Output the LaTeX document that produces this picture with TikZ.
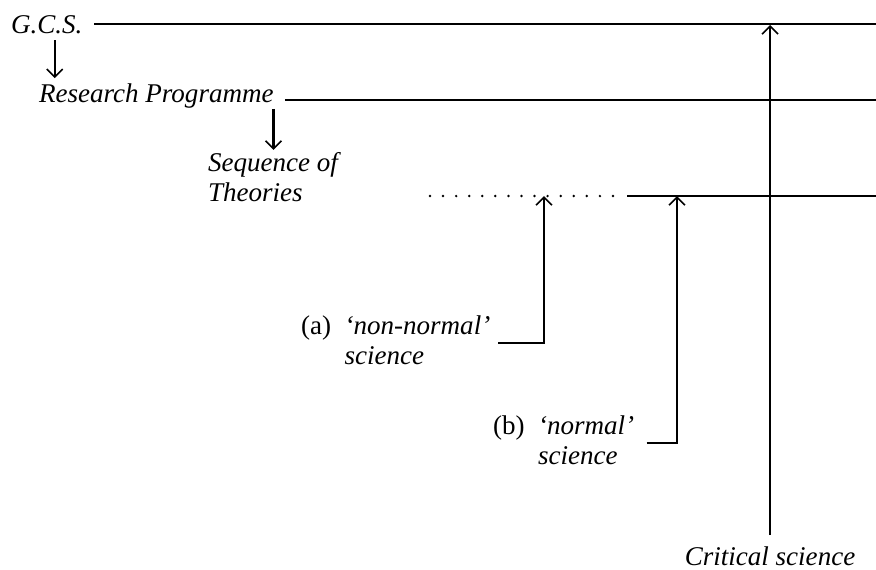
\documentclass[tikz,border=0pt]{standalone}
\usepackage{fontspec}
\setmainfont{Liberation Serif}[ItalicFont={Liberation Serif Italic},UprightFont={Liberation Serif}]
\usetikzlibrary{arrows.meta}
\begin{document}
\begin{tikzpicture}[x=0.44pt,y=-0.44pt,line width=0.9pt,
  every node/.style={inner sep=0pt,font=\fontsize{11.9}{13.2}\selectfont\itshape},
  tip/.style={-{Straight Barb[length=3.5pt,width=7pt,line width=0.7pt]}}]
\useasboundingbox (0,0) rectangle (876,569);
\node[anchor=base west] (GCS) at (10,33) {G.C.S.};
\node[anchor=base west] (RP) at (38,102) {Research Programme};
\node[anchor=north west,align=left] (ST) at (207,151) {Sequence of\\Theories};
\node[anchor=north west,align=left] (NN) at (300,315) {\upshape(a)\ \ \itshape`non-normal'\\\phantom{\upshape(a)\ \ }science};
\node[anchor=north west,align=left] (NS) at (492,415) {\upshape(b)\ \ \itshape`normal'\\\phantom{\upshape(b)\ \ }science};
\node[anchor=base] (CS) at (770,565) {Critical science};
\coordinate (R) at (876,0);
\coordinate (D0) at (430,196);
\coordinate (D1) at (620,196);
\coordinate (L3) at (627,196);
\coordinate (A) at (544,196);
\coordinate (B) at (677,196);
\coordinate (C) at (770,25);
% time lines
\draw[shorten <=4.8pt] (GCS.east) -- (GCS.east -| R);
\draw[shorten <=4.5pt] ([yshift=-1.8pt]RP.east) -- ([yshift=-1.8pt]RP.east -| R);
\draw[dash pattern=on 0pt off 5.75pt,line cap=round,line width=1.2pt] (D0) -- (D1);
\draw (L3) -- (L3 -| R);
% arrows
\draw[tip,shorten <=2.6pt,shorten >=1.8pt] ([xshift=3.5pt]GCS.south) -- ([xshift=3.5pt]GCS.south |- RP.north);
\draw[tip,shorten >=0.5pt] ([xshift=-0.5pt]RP.south east) -- ([xshift=-0.5pt]RP.south east |- ST.north);
\draw[tip] ([xshift=3pt]NN.east) -| (A);
\draw[tip] ([xshift=5pt]NS.east) -| (B);
\draw[tip,shorten <=4.4pt] (CS.north) -- (C);
\end{tikzpicture}
\end{document}
